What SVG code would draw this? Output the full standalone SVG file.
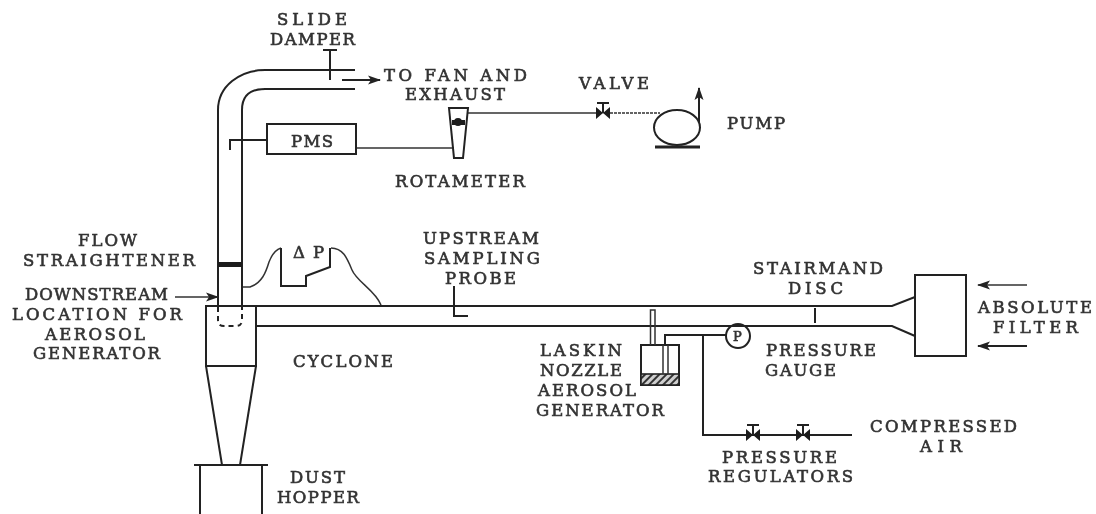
<svg xmlns="http://www.w3.org/2000/svg" width="1096" height="514" viewBox="0 0 1096 514">
<style>
.l{fill:none;stroke:#222;stroke-width:2}
.t{fill:none;stroke:#333;stroke-width:1.5}
.k{fill:#1c1c1c;stroke:none}
text{font-family:"DejaVu Serif","Liberation Serif",serif;font-size:16.5px;font-weight:400;fill:#333;stroke:#333;stroke-width:0.6}
</style>
<defs>
<filter id="soft" x="-2%" y="-2%" width="104%" height="104%"><feGaussianBlur stdDeviation="0.45"/></filter>
<pattern id="hatch" width="5" height="5" patternUnits="userSpaceOnUse" patternTransform="rotate(45)"><rect width="5" height="5" fill="#cfcfcf"/><rect width="2" height="5" fill="#333"/></pattern>
<marker id="ah" markerWidth="13" markerHeight="10" refX="12" refY="5" orient="auto" markerUnits="userSpaceOnUse"><path d="M0,0.5L13,5L0,9.5L3,5Z" fill="#222"/></marker>
<g id="valve"><path class="k" d="M-7,-6L7,6V-6L-7,6Z"/><path class="l" d="M0,0V-10M-6,-10H6"/></g>
</defs>
<rect width="1096" height="514" fill="#fff"/>
<g filter="url(#soft)">
<g id="connectors">
<path class="l" d="M218,306V110C218,86 240,70 265,70H355"/>
<path class="l" d="M242,306V110Q242,89 265,89H355"/>
<path class="l" stroke-dasharray="5 4" d="M218,307V320Q218,326 224,326H236Q242,326 242,320V307"/>
<path class="l" d="M256,306H892L915,297"/>
<path class="l" d="M256,326H892L915,336"/>
<path class="l" d="M342,80H380" marker-end="url(#ah)"/>
<path class="t" d="M356,148H454"/>
<path class="l" d="M267,140H230V150"/>
<path class="t" d="M468,113H597"/>
<path class="t" stroke-dasharray="3 1" d="M610,113H660"/>
<path class="l" d="M699,122V88" marker-end="url(#ah)"/>
<path class="t" d="M175,297H218" marker-end="url(#ah)"/>
<path class="t" d="M1027,285H978" marker-end="url(#ah)"/>
<path class="l" d="M1027,346H978" marker-end="url(#ah)"/>
<path class="t" d="M243,287H250C262,283 266,272 269,262C272,254 275,250 281,248"/>
<path class="t" d="M331,248C343,248 347,258 352,270C357,282 375,290 381,305"/>
<path class="l" d="M665,345V335H726"/>
<path class="l" d="M703,336V435H852"/>
</g>
<g id="slide-damper"><path class="l" d="M330,50V80M323,50H337"/><text x="277" y="25" textLength="70">SLIDE</text><text x="270" y="45" textLength="85">DAMPER</text></g>
<g id="exhaust-label"><text x="384" y="81" textLength="143" xml:space="preserve">TO FAN AND</text><text x="405" y="100" textLength="100">EXHAUST</text></g>
<g id="pms"><rect class="l" x="267" y="124" width="89" height="30"/><text x="291" y="147" textLength="42">PMS</text></g>
<g id="rotameter"><path class="l" d="M449,108H468L463,158H454Z"/><rect class="k" x="452" y="120" width="13" height="5"/><circle class="k" cx="458" cy="122" r="4"/><text x="395" y="187" textLength="130">ROTAMETER</text></g>
<g id="valve-top"><use href="#valve" x="603" y="113"/><text x="579" y="89" textLength="70">VALVE</text></g>
<g id="pump"><ellipse class="l" cx="677" cy="127.5" rx="23" ry="17.5"/><path class="l" style="stroke-width:3" d="M655,147H700"/><text x="727" y="129" textLength="58">PUMP</text></g>
<g id="flow-straightener"><rect class="k" x="218" y="262" width="24" height="5"/><text x="78" y="246" textLength="59">FLOW</text><text x="23" y="266" textLength="172">STRAIGHTENER</text></g>
<g id="downstream-label"><text x="25" y="300" textLength="143">DOWNSTREAM</text><text x="12" y="320" textLength="170" xml:space="preserve">LOCATION FOR</text><text x="45" y="340" textLength="100">AEROSOL</text><text x="33" y="359" textLength="127">GENERATOR</text></g>
<g id="cyclone"><path class="l" d="M206,366V306H256V366ZM206,366L222,465M256,366L240,465"/><text x="293" y="367" textLength="100">CYCLONE</text></g>
<g id="dust-hopper"><path class="l" d="M194,465H268M200,465V514M262,465V514"/><text x="290" y="483" textLength="55">DUST</text><text x="277" y="503" textLength="82">HOPPER</text></g>
<g id="delta-p"><path class="l" d="M281,248V286H306V276L330,267V248"/><text x="293 313" y="258">ΔP</text></g>
<g id="upstream-probe"><path class="l" d="M454,286V316H468"/><text x="423" y="244" textLength="116">UPSTREAM</text><text x="424" y="264" textLength="116">SAMPLING</text><text x="445" y="284" textLength="71">PROBE</text></g>
<g id="laskin-generator"><rect class="l" x="641" y="345" width="38" height="40"/><rect x="641" y="374" width="38" height="11" fill="url(#hatch)" stroke="#222" stroke-width="1.6"/><path class="t" d="M650.5,345V310H655V345M663,345V374M668,345V374"/><text x="540" y="356" textLength="82">LASKIN</text><text x="540" y="376" textLength="82">NOZZLE</text><text x="538" y="396" textLength="98">AEROSOL</text><text x="536" y="416" textLength="128">GENERATOR</text></g>
<g id="pressure-gauge"><circle class="l" cx="738" cy="336" r="12"/><text x="733" y="341" style="font-size:13px">P</text><text x="766" y="356" textLength="110">PRESSURE</text><text x="765" y="376" textLength="71">GAUGE</text></g>
<g id="stairmand-disc"><path class="l" d="M815,308V323"/><text x="753" y="274" textLength="130">STAIRMAND</text><text x="788" y="294" textLength="55">DISC</text></g>
<g id="absolute-filter"><rect class="l" x="915" y="275" width="51" height="81"/><text x="978" y="313" textLength="114">ABSOLUTE</text><text x="993" y="333" textLength="85">FILTER</text></g>
<g id="pressure-regulators"><use href="#valve" x="753" y="435"/><use href="#valve" x="803" y="435"/><text x="722" y="463" textLength="115">PRESSURE</text><text x="708" y="482" textLength="145">REGULATORS</text></g>
<g id="compressed-air"><text x="870" y="432" textLength="147">COMPRESSED</text><text x="920" y="452" textLength="42">AIR</text></g>
</g>
</svg>
